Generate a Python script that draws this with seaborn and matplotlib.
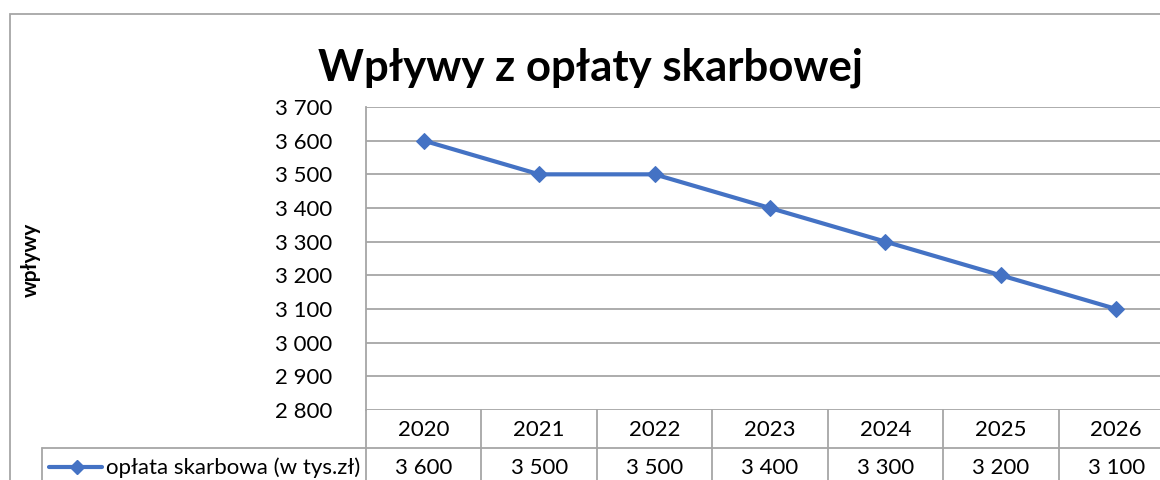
import matplotlib
matplotlib.use("Agg")
import matplotlib.pyplot as plt
import matplotlib.transforms as mtransforms
from matplotlib.patches import Rectangle
import seaborn as sns
import pandas as pd

# ---- data ----
years = ["2020", "2021", "2022", "2023", "2024", "2025", "2026"]
values = [3600, 3500, 3500, 3400, 3300, 3200, 3100]
series_name = "opłata skarbowa (w tys.zł)"
title = "Wpływy z opłaty skarbowej"
y_label = "wpływy"
y_ticks = [2800, 2900, 3000, 3100, 3200, 3300, 3400, 3500, 3600, 3700]

sns.set_theme(style="white")
plt.rcParams["font.family"] = ["Lato", "DejaVu Sans"]

W, H = 1160, 480
fig = plt.figure(figsize=(W / 100, H / 100), dpi=100)
fig.patch.set_facecolor("white")

def fx(x):
    return x / W

def fy(y):
    return 1 - y / H

LINE_C = "#4472C4"
GRID_C = "#A6A6A6"
TXT_C = "#000000"

# outer chart border
fig.patches.append(Rectangle((fx(10), fy(500)), fx(1200) - fx(10), fy(14) - fy(500),
                             transform=fig.transFigure, fill=False,
                             edgecolor="#A6A6A6", linewidth=1.3, zorder=0))

ax_l, ax_r, ax_t, ax_b = 366, 1174, 107, 410
ax = fig.add_axes([fx(ax_l), fy(ax_b), fx(ax_r - ax_l), (ax_b - ax_t) / H])
ax.set_facecolor("none")

df = pd.DataFrame({"rok": years, "wartosc": values})
sns.lineplot(data=df, x="rok", y="wartosc", ax=ax, color=LINE_C, linewidth=3,
             marker="D", markersize=8.5, markeredgecolor=LINE_C, sort=False, zorder=3)

ax.set_xlim(-0.5, len(years) - 0.5)
ax.set_ylim(y_ticks[0], y_ticks[-1])
ax.set_yticks(y_ticks)
ax.set_yticklabels([f"{v:,}".replace(",", " ") for v in y_ticks], fontsize=16, color=TXT_C)
ax.set_xticks([])
ax.set_xlabel("")
ax.set_ylabel("")
ax.tick_params(axis="y", length=0, pad=24)
for t in y_ticks:
    ax.axhline(t, color=GRID_C, linewidth=1.3, zorder=1)
for s in ["top", "right", "bottom"]:
    ax.spines[s].set_visible(False)
ax.spines["left"].set_color(GRID_C)
ax.spines["left"].set_linewidth(1.3)

# ---- data table below ----
btr = mtransforms.blended_transform_factory(ax.transData, fig.transFigure)
row1_top, row1_bot, row2_bot = 410, 448, 490
n = len(years)
ax.plot([-0.5, n], [fy(row1_bot), fy(row1_bot)], transform=btr, color=GRID_C,
        lw=1.3, clip_on=False)
fig.add_artist(plt.Line2D([fx(42), fx(ax_l)], [fy(row1_bot), fy(row1_bot)],
                          transform=fig.transFigure, color=GRID_C, lw=1.3))
for i in range(n + 1):
    ax.plot([i - 0.5, i - 0.5], [fy(row1_top), fy(row2_bot)], transform=btr,
            color=GRID_C, lw=1.3, clip_on=False)
fig.add_artist(plt.Line2D([fx(42), fx(42)], [fy(row1_bot), fy(row2_bot)],
                          transform=fig.transFigure, color=GRID_C, lw=1.3))
for i, (yr, v) in enumerate(zip(years, values)):
    ax.text(i, fy(430), yr, transform=btr, ha="center", va="center", fontsize=16,
            color=TXT_C, clip_on=False)
    ax.text(i, fy(468), f"{v:,}".replace(",", " "), transform=btr, ha="center",
            va="center", fontsize=16, color=TXT_C, clip_on=False)

# legend key in table
fig.add_artist(plt.Line2D([fx(49), fx(102)], [fy(467), fy(467)], transform=fig.transFigure,
                          color=LINE_C, lw=3))
fig.add_artist(plt.Line2D([fx(77)], [fy(467)], transform=fig.transFigure, color=LINE_C,
                          marker="D", markersize=7, markeredgecolor=LINE_C, lw=0))
fig.text(fx(106), fy(468), series_name, ha="left", va="center", fontsize=16, color=TXT_C)

# title and axis label
fig.text(fx(590), fy(81), title, ha="center", va="baseline", fontsize=31.5,
         fontweight="bold", color=TXT_C)
fig.text(fx(31), fy(260), y_label, ha="center", va="center", rotation=90,
         fontsize=15, fontweight="bold", color=TXT_C)

fig.savefig("out.png", dpi=100)
